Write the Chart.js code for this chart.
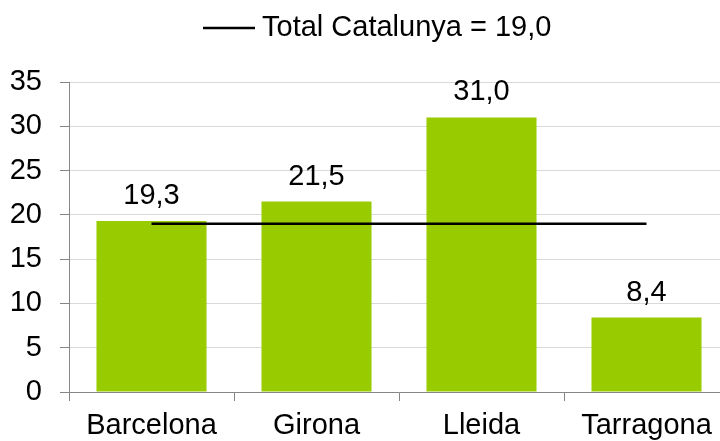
<!DOCTYPE html>
<html>
<head>
<meta charset="utf-8">
<script src="https://cdn.jsdelivr.net/npm/chart.js@4/dist/chart.umd.min.js"></script>
<style>
  html, body { margin: 0; padding: 0; background: #fff; overflow: hidden; }
  #wrap { width: 720px; height: 441px; overflow: hidden; position: relative; }
  canvas { display: block; }
</style>
</head>
<body>
<div id="wrap"><canvas id="c" width="729" height="441" style="width:729px;height:441px"></canvas></div>
<script>
const categories = ['Barcelona', 'Girona', 'Lleida', 'Tarragona'];
const provinceValues = [19.3, 21.5, 31.0, 8.4];
const totalCatalunya = 19.0;
const totalLine = [totalCatalunya, totalCatalunya, totalCatalunya, totalCatalunya];
const legendLabel = 'Total Catalunya = 19,0';
const yTicks = [0, 5, 10, 15, 20, 25, 30, 35];

const FONT = '"Liberation Sans", Arial, sans-serif';
const FS = 29;

const fmt = v => v.toFixed(1).replace('.', ',');

const valueLabels = {
  id: 'valueLabels',
  afterDatasetsDraw(chart) {
    const ctx = chart.ctx;
    const meta = chart.getDatasetMeta(0);
    ctx.save();
    ctx.font = FS + 'px ' + FONT;
    ctx.fillStyle = '#000';
    ctx.textAlign = 'center';
    ctx.textBaseline = 'alphabetic';
    meta.data.forEach((el, i) => {
      ctx.fillText(fmt(chart.data.datasets[0].data[i]), el.x, el.y - 17);
    });
    ctx.restore();
  }
};

const topLegend = {
  id: 'topLegend',
  afterDraw(chart) {
    const ctx = chart.ctx;
    ctx.save();
    const y = 28;
    ctx.strokeStyle = '#000';
    ctx.lineWidth = 2.5;
    ctx.beginPath();
    ctx.moveTo(203, y);
    ctx.lineTo(255, y);
    ctx.stroke();
    ctx.font = FS + 'px ' + FONT;
    ctx.fillStyle = '#000';
    ctx.textAlign = 'left';
    ctx.textBaseline = 'middle';
    ctx.fillText(chart.data.datasets[1].label, 262, y);
    ctx.restore();
  }
};

new Chart(document.getElementById('c'), {
  data: {
    labels: categories,
    datasets: [
      {
        type: 'bar',
        label: 'Províncies',
        data: provinceValues,
        backgroundColor: '#99CC00',
        borderWidth: 0,
        categoryPercentage: 1.0,
        barPercentage: 0.667,
        order: 2
      },
      {
        type: 'line',
        label: legendLabel,
        data: totalLine,
        borderColor: '#000',
        borderWidth: 2.5,
        pointRadius: 0,
        fill: false,
        order: 1
      }
    ]
  },
  options: {
    responsive: false,
    devicePixelRatio: 1,
    animation: false,
    layout: { padding: { top: 82, left: 0, right: 0, bottom: 0 } },
    plugins: {
      legend: { display: false },
      tooltip: { enabled: false }
    },
    scales: {
      x: {
        offset: true,
        afterFit(s) { s.height = 49; },
        grid: { drawOnChartArea: false, drawTicks: true, tickLength: 9, tickColor: '#868686', offset: true },
        border: { color: '#868686', width: 1 },
        ticks: { color: '#000', font: { family: FONT, size: FS }, padding: 8, maxRotation: 0, autoSkip: false }
      },
      y: {
        min: 0,
        max: 35,
        afterFit(s) { s.width = 69; },
        afterBuildTicks(s) { s.ticks = yTicks.map(v => ({ value: v })); },
        grid: { color: '#D9D9D9', lineWidth: 1, drawTicks: true, tickLength: 9, tickColor: '#868686' },
        border: { color: '#868686', width: 1 },
        ticks: { color: '#000', font: { family: FONT, size: FS }, padding: 18 }
      }
    }
  },
  plugins: [valueLabels, topLegend]
});
</script>
</body>
</html>
